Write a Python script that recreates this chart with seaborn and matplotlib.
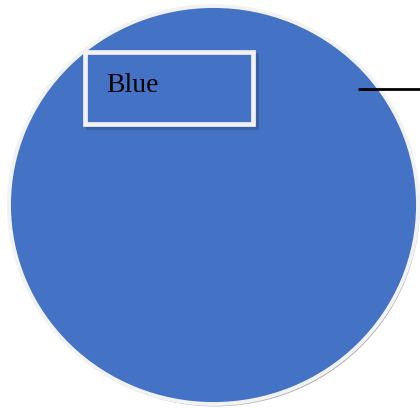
import matplotlib
matplotlib.use("Agg")
import matplotlib.pyplot as plt
import seaborn as sns
from matplotlib.patches import Rectangle

# data
categories = ["Blue"]
values = [100]
colors = ["#4472C4"]

W, H = 420, 408
CX, CY = 213.5, 205     # pie centre in pixels (from top)
RX, RY = 204.5, 199     # slightly stretched horizontally, as in the source

sns.set_style("white")

fig = plt.figure(figsize=(W / 100, H / 100), dpi=100)
ax = fig.add_axes([0, 0, 1, 1])

# soft grey rim / shadow behind the pie
ax.pie([1], colors=["#a9adb6"], center=(0.008, -0.012), radius=1.0,
       startangle=90, frame=True, wedgeprops=dict(linewidth=0))
ax.pie(values, colors=colors, center=(0, 0), radius=1.0, startangle=90,
       counterclock=False, frame=True,
       wedgeprops=dict(edgecolor="#f2f2f2", linewidth=2.8))
ax.set_aspect("auto")
ax.set_xlim(-CX / RX, (W - CX) / RX)
ax.set_ylim(-(H - CY) / RY, CY / RY)
ax.set_axis_off()

# overlay in pixel coordinates for the data label
ov = fig.add_axes([0, 0, 1, 1])
ov.set_xlim(0, W)
ov.set_ylim(H, 0)
ov.set_axis_off()

bx, by, bw, bh = 85, 52, 168, 72
ov.add_patch(Rectangle((bx + 3, by + 3), bw, bh, facecolor="none",
                       edgecolor="#3861a6", linewidth=3.4, zorder=4))
ov.add_patch(Rectangle((bx, by), bw, bh, facecolor=colors[0],
                       edgecolor="#f2f2f2", linewidth=3.4, zorder=5))
ov.text(bx + 21, 92, categories[0], fontsize=20, color="black",
        family="Liberation Serif", ha="left", va="baseline", zorder=6)

# leader line
ov.plot([358, W], [89, 89], color="black", lw=2, solid_capstyle="butt", zorder=6)

fig.savefig("out.png", dpi=100)
